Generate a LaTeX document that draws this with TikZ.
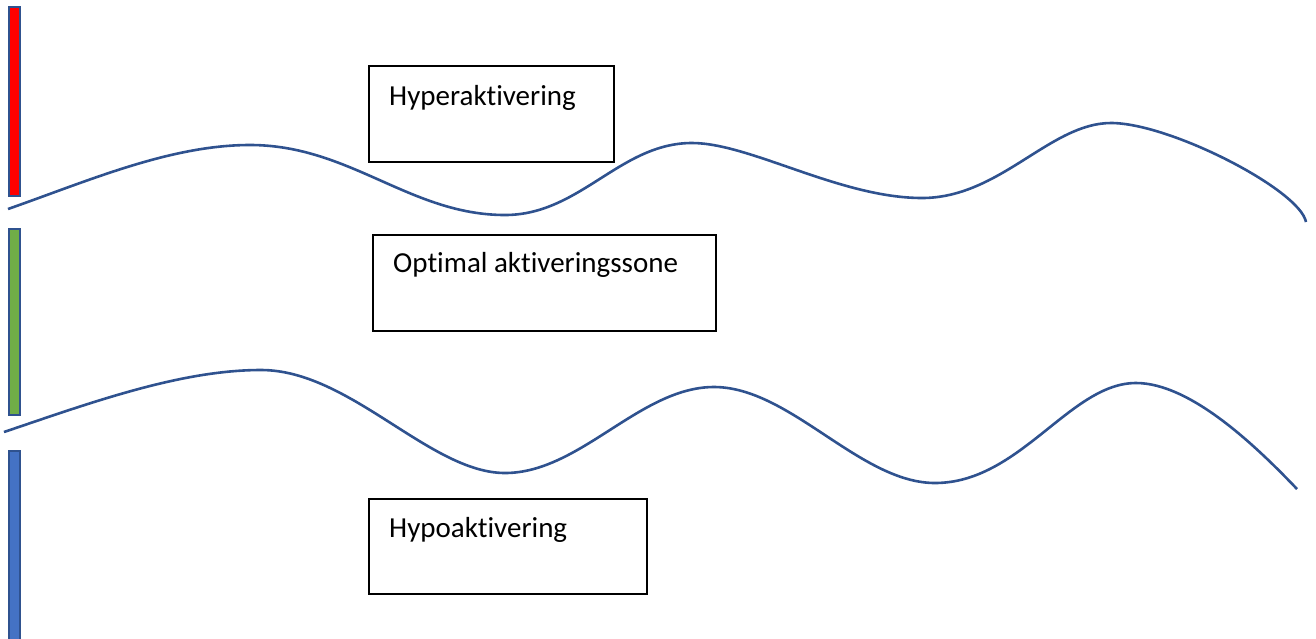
\documentclass[tikz,border=0pt]{standalone}
\usepackage{fontspec}
\setmainfont{Carlito}[Ligatures=NoCommon]
\definecolor{outl}{HTML}{2F528F}
\definecolor{hotred}{HTML}{FF0000}
\definecolor{okgreen}{HTML}{70AD47}
\definecolor{lowblue}{HTML}{4472C4}
\begin{document}
\begin{tikzpicture}[x=1pt,y=-1pt,
  bar/.style={draw=outl,line width=2pt},
  wave/.style={draw=outl,line width=2.6pt},
  zonebox/.style={draw=black,line width=1.6pt,inner sep=0pt,anchor=north west},
  zonetext/.style={font=\fontsize{29}{34}\selectfont,anchor=base west,inner sep=0pt}]
\useasboundingbox (0,0) rectangle (1316,638);
% activation bars
\filldraw[bar,fill=hotred] (9,7) rectangle (20,196);
\filldraw[bar,fill=okgreen] (9,229) rectangle (20,415);
\filldraw[bar,fill=lowblue] (9,451) rectangle (20,645);
% upper wave
\draw[wave] (8,209) .. controls (88,181) and (170,145) .. (250,145)
  .. controls (350,145) and (410,215) .. (505,215)
  .. controls (580,215) and (620,143) .. (692,143)
  .. controls (750,143) and (840,198) .. (922,198)
  .. controls (1000,198) and (1050,123) .. (1111,123)
  .. controls (1170,123) and (1300,190) .. (1306,222);
% lower wave
\draw[wave] (4,432) .. controls (90,403) and (180,370) .. (261,370)
  .. controls (350,370) and (430,473) .. (505,473)
  .. controls (580,473) and (640,387) .. (714,387)
  .. controls (790,387) and (860,483) .. (935,483)
  .. controls (1020,483) and (1070,383) .. (1136,383)
  .. controls (1190,383) and (1255,445) .. (1297,489);
% zone boxes
\node[zonebox,minimum width=245,minimum height=96] (hyper) at (368,65) {};
\node[zonetext] (hypert) at (389,105) {Hyperaktivering};
\node[zonebox,minimum width=343,minimum height=96] (opt) at (372,234) {};
\node[zonetext] (optt) at (393,272) {Optimal aktiveringssone};
\node[zonebox,minimum width=278,minimum height=95] (hypo) at (368,498) {};
\node[zonetext] (hypot) at (389,537) {Hypoaktivering};
\end{tikzpicture}
\end{document}
